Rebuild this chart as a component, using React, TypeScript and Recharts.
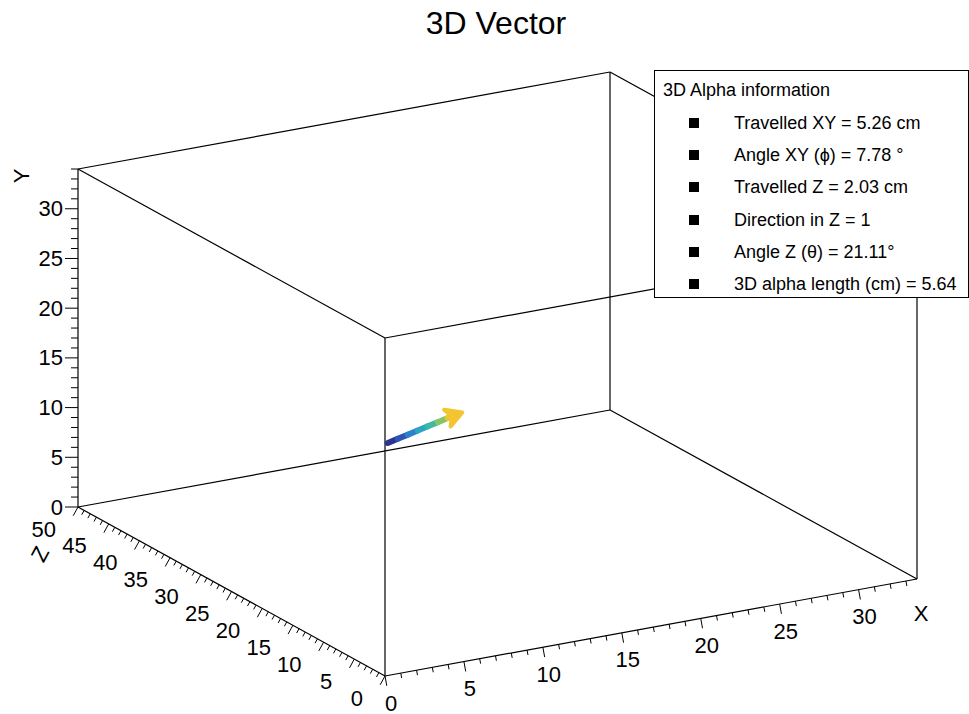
import React from 'react'
import { ScatterChart, Scatter, XAxis, YAxis, ReferenceLine } from 'recharts'

const W = 969
const H = 714
const FONT = '"Liberation Sans", Arial, Helvetica, sans-serif'

// ranges of the 3D frame (cm)
const X_MAX = 33.7
const Y_MAX = 34
const Z_MAX = 50

const xLabels = [0, 5, 10, 15, 20, 25, 30]
const yLabels = [0, 5, 10, 15, 20, 25, 30]
const zLabels = [0, 5, 10, 15, 20, 25, 30, 35, 40, 45, 50]

// alpha track, start -> end (cm)
const trackX = [9.9, 10.65, 11.4, 12.15, 12.9, 13.65, 14.4, 15.1]
const trackY = [12.07, 12.17, 12.27, 12.37, 12.47, 12.57, 12.67, 12.78]
const trackZ = [25.0, 25.3, 25.6, 25.9, 26.2, 26.5, 26.8, 27.0]
const trackColors = ['#2b3590', '#2d55b5', '#2c80cc', '#2aa6c4', '#3fb8a2', '#86c466', '#efc533']

const legendTitle = '3D Alpha information'
const legendItems = [
  'Travelled XY = 5.26 cm',
  'Angle XY (\u03d5) = 7.78 \u00b0',
  'Travelled Z = 2.03 cm',
  'Direction in Z = 1',
  'Angle Z (\u03b8) = 21.11\u00b0',
  '3D alpha length (cm) = 5.64',
]

// where the box lands on the page
const VIEW = { ox: 385, oy: 676, xdx: 532, xdy: -97, ylen: 338, zdx: -307, zdy: -169 }

function project(x: number, y: number, z: number) {
  const fx = x / X_MAX
  const fy = y / Y_MAX
  const fz = z / Z_MAX
  return {
    px: VIEW.ox + fx * VIEW.xdx + fz * VIEW.zdx,
    py: VIEW.oy + fx * VIEW.xdy - fy * VIEW.ylen + fz * VIEW.zdy,
  }
}

type P = { px: number; py: number }

// 12 edges of the frame
const edges: [P, P][] = []
for (let a = 0; a < 8; a++) {
  for (const bit of [1, 2, 4]) {
    if (a & bit) continue
    const b = a | bit
    const c = (n: number) => project(n & 1 ? X_MAX : 0, n & 2 ? Y_MAX : 0, n & 4 ? Z_MAX : 0)
    edges.push([c(a), c(b)])
  }
}

// tick marks: [point on axis, dir x, dir y, length]
const ticks: [P, number, number, number][] = []
const xDir = (() => {
  const l = Math.hypot(VIEW.xdx, VIEW.xdy)
  return [-VIEW.xdy / l, VIEW.xdx / l]
})()
const zDir = (() => {
  const l = Math.hypot(VIEW.zdx, VIEW.zdy)
  return [VIEW.zdy / l, -VIEW.zdx / l]
})()
for (let v = 0; v <= Math.floor(X_MAX); v++) {
  ticks.push([project(v, 0, 0), xDir[0], xDir[1], v % 5 === 0 ? 10 : 5])
}
for (let v = 0; v <= Math.floor(Y_MAX); v++) {
  ticks.push([project(0, v, Z_MAX), -1, 0, v % 5 === 0 ? 13 : 7])
}
for (let v = 0; v <= Z_MAX; v++) {
  ticks.push([project(0, 0, v), zDir[0], zDir[1], v % 5 === 0 ? 10 : 5])
}

const xLabelData = xLabels.map((v) => ({ ...project(v, 0, 0), label: String(v) }))
const yLabelData = yLabels.map((v) => ({ ...project(0, v, Z_MAX), label: String(v) }))
const zLabelData = zLabels.map((v) => ({ ...project(0, 0, v), label: String(v) }))

const track = trackX.map((x, i) => project(x, trackY[i], trackZ[i]))
const tip = track[track.length - 1]
const prev = track[track.length - 2]
const headAngle = (Math.atan2(tip.py - prev.py, tip.px - prev.px) * 180) / Math.PI

const labelStyle = { fontSize: 22, fontFamily: FONT, fill: '#000' }

const Nothing = () => <g />

export default function App() {
  return (
    <div style={{ position: 'absolute', left: 0, top: 0, width: W, height: H, background: '#fff' }}>
      <ScatterChart width={W} height={H} margin={{ top: 0, right: 0, bottom: 0, left: 0 }}>
        <XAxis type="number" dataKey="px" domain={[0, W]} hide allowDataOverflow />
        <YAxis type="number" dataKey="py" domain={[0, H]} reversed hide allowDataOverflow />

        {edges.map(([a, b], i) => (
          <ReferenceLine
            key={'e' + i}
            segment={[{ x: a.px, y: a.py }, { x: b.px, y: b.py }]}
            stroke="#000"
            strokeWidth={1.2}
            ifOverflow="visible"
          />
        ))}
        {ticks.map(([p, dx, dy, len], i) => (
          <ReferenceLine
            key={'t' + i}
            segment={[{ x: p.px, y: p.py }, { x: p.px + dx * len, y: p.py + dy * len }]}
            stroke="#000"
            strokeWidth={1}
            ifOverflow="visible"
          />
        ))}

        {track.slice(1).map((p, i) => (
          <Scatter
            key={'s' + i}
            data={[track[i], p]}
            line={{ stroke: trackColors[i], strokeWidth: 6, strokeLinecap: 'round' }}
            shape={Nothing}
            isAnimationActive={false}
          />
        ))}
        <Scatter
          data={[tip]}
          isAnimationActive={false}
          // eslint-disable-next-line @typescript-eslint/no-explicit-any
          shape={(p: any) => (
            <g transform={`translate(${p.cx},${p.cy}) rotate(${headAngle})`}>
              <polygon points="5,0 -11,-9 -6,0 -11,9" fill="#f2c531" stroke="#f2c531" strokeWidth={4} strokeLinejoin="round" />
            </g>
          )}
        />

        <Scatter
          data={xLabelData}
          isAnimationActive={false}
          // eslint-disable-next-line @typescript-eslint/no-explicit-any
          shape={(p: any) => (
            <text x={p.cx + 6} y={p.cy + 27} textAnchor="middle" dominantBaseline="central" {...labelStyle}>
              {p.payload.label}
            </text>
          )}
        />
        <Scatter
          data={yLabelData}
          isAnimationActive={false}
          // eslint-disable-next-line @typescript-eslint/no-explicit-any
          shape={(p: any) => (
            <text x={p.cx - 15} y={p.cy} textAnchor="end" dominantBaseline="central" {...labelStyle}>
              {p.payload.label}
            </text>
          )}
        />
        <Scatter
          data={zLabelData}
          isAnimationActive={false}
          // eslint-disable-next-line @typescript-eslint/no-explicit-any
          shape={(p: any) => (
            <text x={p.cx - 22} y={p.cy + 22} textAnchor="end" dominantBaseline="central" {...labelStyle}>
              {p.payload.label}
            </text>
          )}
        />

        {/* axis titles */}
        <Scatter
          data={[{ ...project(0, Y_MAX, Z_MAX), label: 'Y' }]}
          isAnimationActive={false}
          // eslint-disable-next-line @typescript-eslint/no-explicit-any
          shape={(p: any) => (
            <text transform={`translate(${p.cx - 57},${p.cy + 7}) rotate(-90)`} textAnchor="middle" dominantBaseline="central" {...labelStyle}>
              {p.payload.label}
            </text>
          )}
        />
        <Scatter
          data={[{ ...project(X_MAX, 0, 0), label: 'X' }]}
          isAnimationActive={false}
          // eslint-disable-next-line @typescript-eslint/no-explicit-any
          shape={(p: any) => (
            <text x={p.cx + 4} y={p.cy + 34} textAnchor="middle" dominantBaseline="central" {...labelStyle}>
              {p.payload.label}
            </text>
          )}
        />
        <Scatter
          data={[{ ...project(0, 0, Z_MAX), label: 'Z' }]}
          isAnimationActive={false}
          // eslint-disable-next-line @typescript-eslint/no-explicit-any
          shape={(p: any) => (
            <text transform={`translate(${p.cx - 38},${p.cy + 47}) rotate(-62)`} textAnchor="middle" dominantBaseline="central" {...labelStyle}>
              {p.payload.label}
            </text>
          )}
        />
      </ScatterChart>

      <div
        style={{
          position: 'absolute',
          left: 496,
          top: 23,
          transform: 'translate(-50%, -50%)',
          fontFamily: FONT,
          fontSize: 32,
          whiteSpace: 'nowrap',
        }}
      >
        3D Vector
      </div>

      <div
        style={{
          position: 'absolute',
          left: 654,
          top: 70,
          width: 315,
          height: 228,
          boxSizing: 'border-box',
          border: '1px solid #000',
          background: '#fff',
          fontFamily: FONT,
          fontSize: 18,
          color: '#000',
        }}
      >
        <span style={{ position: 'absolute', left: 8, top: 19, transform: 'translateY(-50%)', whiteSpace: 'nowrap' }}>
          {legendTitle}
        </span>
        {legendItems.map((t, i) => (
          <React.Fragment key={t}>
            <span
              style={{
                position: 'absolute',
                left: 34,
                top: 52 + i * 32.2 - 5,
                width: 10,
                height: 10,
                background: '#000',
              }}
            />
            <span
              style={{
                position: 'absolute',
                left: 79,
                top: 52 + i * 32.2,
                transform: 'translateY(-50%)',
                whiteSpace: 'nowrap',
              }}
            >
              {t}
            </span>
          </React.Fragment>
        ))}
      </div>
    </div>
  )
}
